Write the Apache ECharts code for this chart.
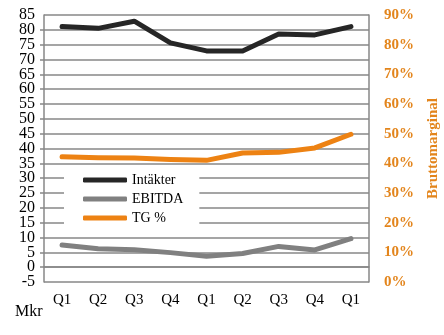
<!DOCTYPE html>
<html>
<head>
<meta charset="utf-8">
<script src="https://cdn.jsdelivr.net/npm/echarts@6/dist/echarts.min.js"></script>
<style>
html,body{margin:0;padding:0;background:#fff;}
#chart{width:444px;height:335px;}
</style>
</head>
<body>
<div id="chart"></div>
<script>
const categories = ['Q1','Q2','Q3','Q4','Q1','Q2','Q3','Q4','Q1'];
const intakter = [81.1, 80.5, 82.9, 75.6, 72.9, 72.9, 78.6, 78.3, 81.1];
const ebitda = [7.5, 6.2, 5.9, 4.9, 3.7, 4.6, 7.0, 5.8, 9.6];
const tgPct = [42.2, 41.9, 41.8, 41.3, 41.0, 43.5, 43.7, 45.2, 49.8];
const leftTicks = {min: -5, max: 85, interval: 5};
const rightTicks = {min: 0, max: 90, interval: 10};

const serif = '"Liberation Serif", "Times New Roman", serif';
const orange = '#ED8213';
const orangeText = '#E3851C';
const gridGray = '#878787';
const leftLabelStyle = {fontFamily: serif, fontSize: 16, color: '#000', margin: 9};

const chart = echarts.init(document.getElementById('chart'), null, {renderer: 'canvas'});
chart.setOption({
  animation: false,
  backgroundColor: '#ffffff',
  grid: {left: 44, right: 75, top: 15, bottom: 53, containLabel: false, outerBoundsMode: 'none'},
  legend: {
    orient: 'vertical',
    left: 64, top: 166,
    backgroundColor: '#ffffff',
    padding: [7, 16, 7, 19],
    itemGap: 5,
    itemWidth: 44, itemHeight: 5,
    itemTextGap: 3,
    icon: 'roundRect',
    textStyle: {fontFamily: serif, fontSize: 14, color: '#000'},
    data: ['Intäkter', 'EBITDA', 'TG %']
  },
  graphic: [{
    type: 'text', left: 15, top: 304,
    style: {text: 'Mkr', font: '16px ' + serif, fill: '#000'}
  }],
  xAxis: {
    type: 'category',
    data: categories,
    boundaryGap: true,
    axisLine: {lineStyle: {color: gridGray, width: 1.5}},
    axisTick: {show: false},
    axisLabel: {fontFamily: serif, fontSize: 15, color: '#000', margin: 11}
  },
  yAxis: [{
    type: 'value',
    min: leftTicks.min, max: leftTicks.max, interval: leftTicks.interval,
    axisLine: {show: true, lineStyle: {color: gridGray, width: 1.5}},
    axisTick: {show: true, length: 4, lineStyle: {color: gridGray, width: 1.5}},
    splitLine: {show: true, lineStyle: {color: gridGray, width: 1.5}},
    axisLabel: Object.assign({showMinLabel: false, showMaxLabel: false}, leftLabelStyle)
  }, {
    type: 'value',
    position: 'right',
    min: rightTicks.min, max: rightTicks.max, interval: rightTicks.interval,
    name: 'Bruttomarginal',
    nameLocation: 'middle',
    nameRotate: 90,
    nameGap: 57,
    nameTextStyle: {fontFamily: serif, fontSize: 15, fontWeight: 'bold', color: orangeText},
    axisLine: {show: true, lineStyle: {color: gridGray, width: 1.5}},
    axisTick: {show: false},
    splitLine: {show: false},
    axisLabel: {fontFamily: serif, fontSize: 15, fontWeight: 'bold', color: orangeText, margin: 15,
      formatter: '{value}%', showMinLabel: true, showMaxLabel: true, hideOverlap: false}
  }, {
    type: 'value',
    position: 'left',
    min: leftTicks.min, max: leftTicks.max, interval: leftTicks.max - leftTicks.min,
    axisLine: {show: false},
    axisTick: {show: false},
    splitLine: {show: false},
    axisLabel: Object.assign({showMinLabel: true, showMaxLabel: true}, leftLabelStyle)
  }],
  series: [{
    name: 'Intäkter', type: 'line', data: intakter, yAxisIndex: 0,
    symbol: 'none', lineStyle: {color: '#262626', width: 5, cap: 'round', join: 'round'},
    itemStyle: {color: '#262626'}
  }, {
    name: 'EBITDA', type: 'line', data: ebitda, yAxisIndex: 0,
    symbol: 'none', lineStyle: {color: '#808080', width: 5, cap: 'round', join: 'round'},
    itemStyle: {color: '#808080'}
  }, {
    name: 'TG %', type: 'line', data: tgPct, yAxisIndex: 1,
    symbol: 'none', lineStyle: {color: orange, width: 5, cap: 'round', join: 'round'},
    itemStyle: {color: orange}
  }]
});
</script>
</body>
</html>
